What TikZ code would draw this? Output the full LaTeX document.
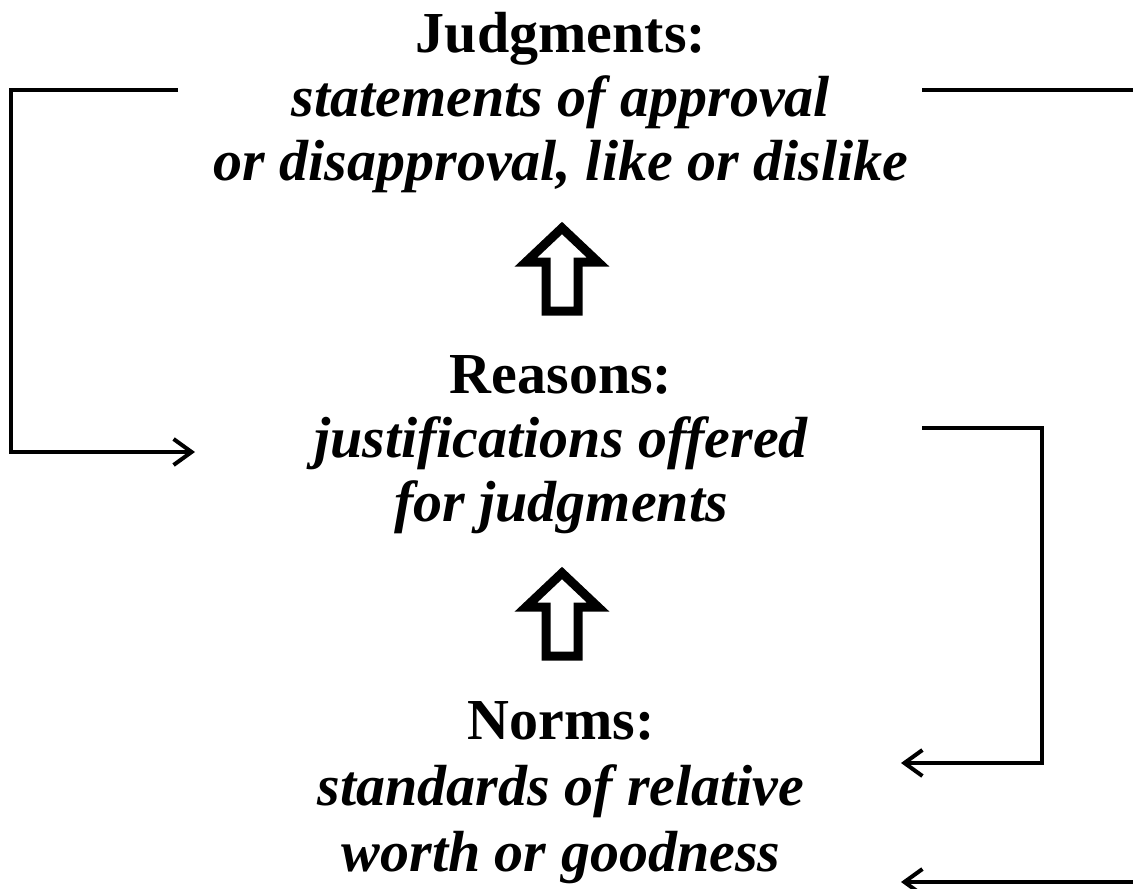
\documentclass[tikz,border=0pt]{standalone}
\usepackage{fontspec}
\setmainfont{Liberation Serif}
\usetikzlibrary{arrows.meta}
\begin{document}
\begin{tikzpicture}[x=0.5pt,y=-0.5pt,
  txt/.style={align=center,font=\fontsize{29}{32}\selectfont\bfseries\itshape,inner sep=0pt},
  conn/.style={line width=2pt,line join=miter},
  tip/.style={-{Straight Barb[length=9pt,width=13pt,line width=2pt]}},
  blk/.style={line width=4.5pt,line join=miter,fill=white}]
\useasboundingbox (0,0) rectangle (1133,888);
\clip (0,0) rectangle (1133,888);
\node[txt] (J) at (561,103) {{\upshape Judgments:}\\statements of approval\\or disapproval, like or dislike};
\node[txt] (R) at (561,445) {{\upshape Reasons:}\\justifications offered\\for judgments};
\node[txt,font=\fontsize{29}{33}\selectfont\bfseries\itshape] (N) at (561,793) {{\upshape Norms:}\\standards of relative\\worth or goodness};
% block arrows
\foreach \o/\n in {0/a1,345/a2}{
  \draw[blk] (546,311+\o) -- (578,311+\o) -- (578,262+\o) -- (598,262+\o) -- (562,228+\o) -- (526,262+\o) -- (546,262+\o) -- cycle;
}
\coordinate (c1s) at (178,90);
\coordinate (c1e) at (195,452);
\coordinate (c2s) at (922,428);
\coordinate (c2e) at (901,763);
\coordinate (c3s) at (922,90);
\coordinate (c3e) at (901,882);
\draw[conn,tip] (c1s) -- (11,90) -- (11,452) -- (c1e);
\draw[conn,tip] (c2s) -- (1042,428) -- (1042,763) -- (c2e);
\draw[conn,tip] (c3s) -- (1160,90) -- (1160,882) -- (c3e);
\end{tikzpicture}
\end{document}
